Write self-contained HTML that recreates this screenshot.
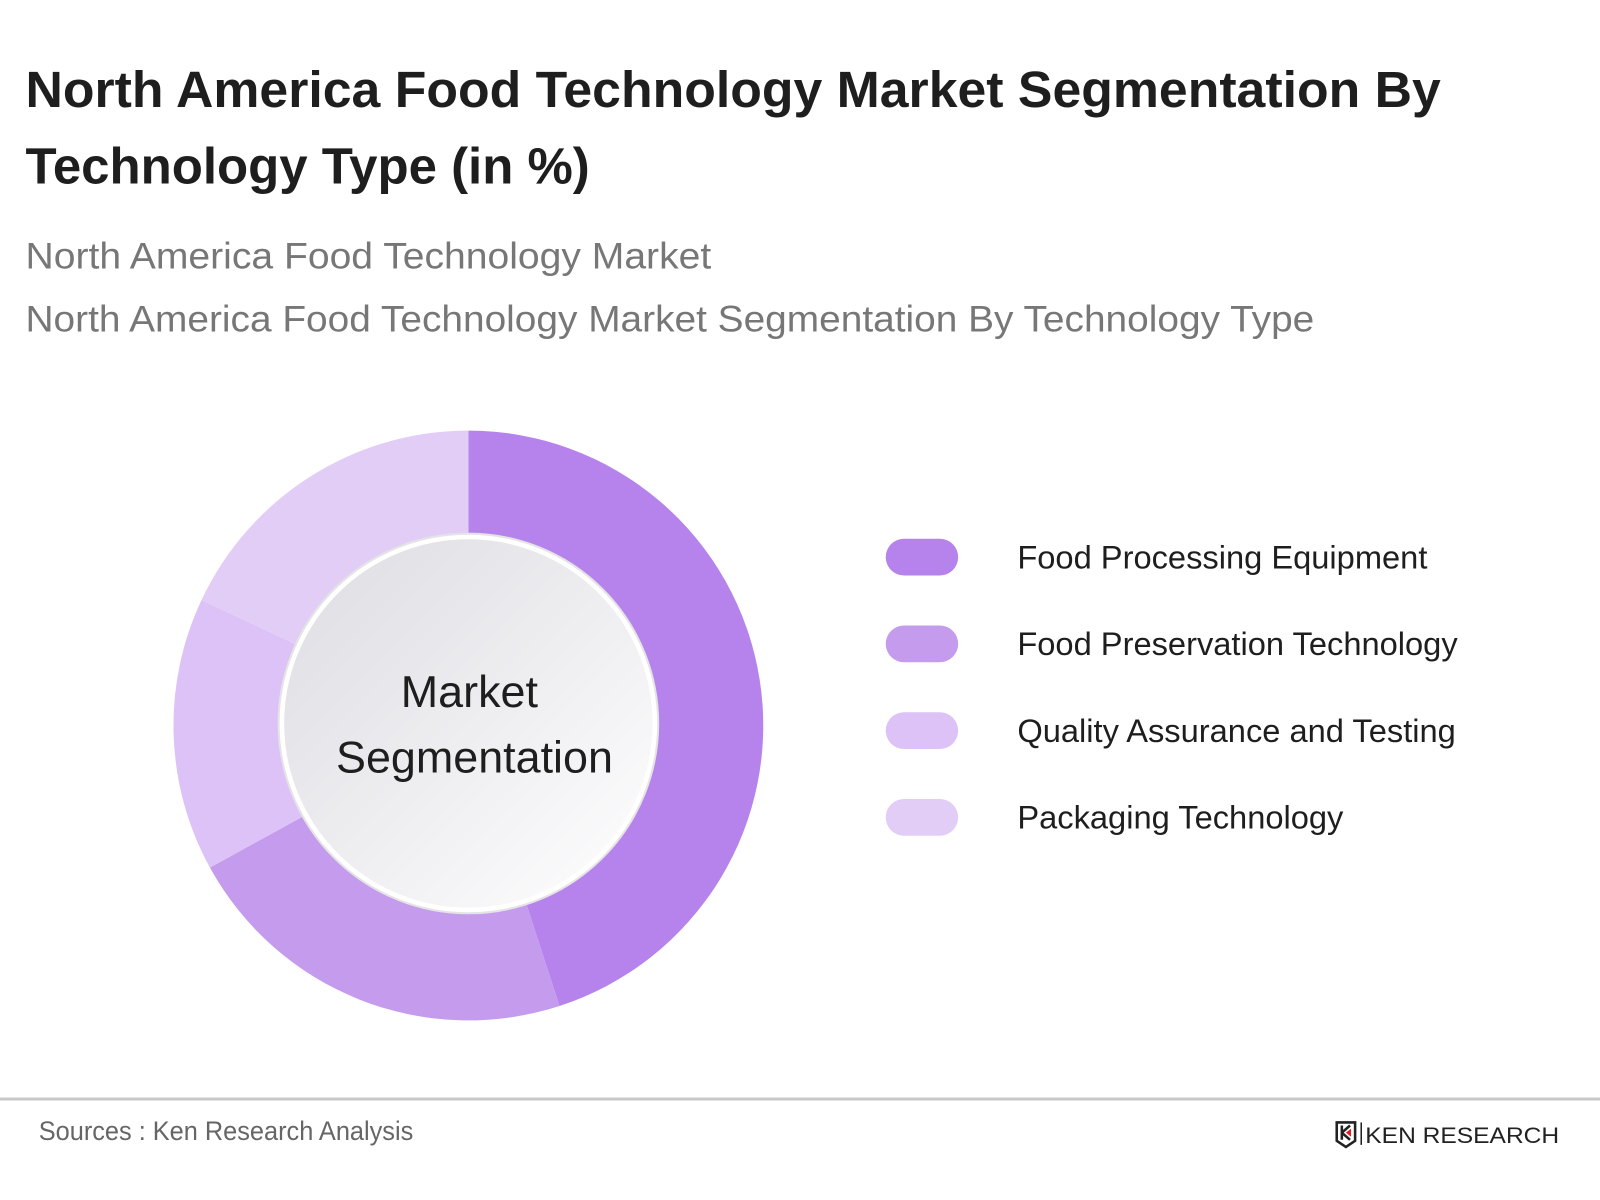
<!DOCTYPE html>
<html><head><meta charset="utf-8"><style>
html,body{margin:0;padding:0;background:#fff}
svg{display:block}
text{font-family:"Liberation Sans",sans-serif}
</style></head><body>
<svg id="chart" width="1600" height="1200" viewBox="0 0 1568 1176" xmlns="http://www.w3.org/2000/svg">
<defs>
<linearGradient id="cg" x1="0" y1="0" x2="1" y2="1">
<stop offset="0" stop-color="#dcdce2"/><stop offset="1" stop-color="#ffffff"/>
</linearGradient>
</defs>
<text x="25" y="105" font-size="50" font-weight="bold" fill="#1e1e1e" textLength="1387" lengthAdjust="spacingAndGlyphs">North America Food Technology Market Segmentation By</text>
<text x="25" y="180" font-size="50" font-weight="bold" fill="#1e1e1e" textLength="553" lengthAdjust="spacingAndGlyphs">Technology Type (in %)</text>
<text x="25" y="263" font-size="36" fill="#777" textLength="672" lengthAdjust="spacingAndGlyphs">North America Food Technology Market</text>
<text x="25" y="325" font-size="36" fill="#777" textLength="1263" lengthAdjust="spacingAndGlyphs">North America Food Technology Market Segmentation By Technology Type</text>
<g id="slices"></g>
<circle cx="459" cy="709" r="183" fill="url(#cg)" stroke="#fff" stroke-width="5"/>
<circle cx="459" cy="709" r="186" fill="none" stroke="#e4e4e4" stroke-width="2"/>
<text x="460" y="693" font-size="44" text-anchor="middle" fill="#1e1e1e">Market</text>
<text x="465" y="757" font-size="44" text-anchor="middle" fill="#1e1e1e">Segmentation</text>
<g id="legend"></g>
<line x1="0" y1="1077" x2="1568" y2="1077" stroke="#c8c8c8" stroke-width="3"/>
<text x="38" y="1117" font-size="26" fill="#666" textLength="367" lengthAdjust="spacingAndGlyphs">Sources : Ken Research Analysis</text>
<g>
<path d="M1310 1100 h18 v18 l-9 6 l-9 -6 z" fill="none" stroke="#222" stroke-width="2.5"/>
<path d="M1315 1103 v14 M1315 1110 l8 -7 M1315 1110 l8 7" stroke="#222" stroke-width="2.5" fill="none"/>
<path d="M1319 1110 l5 -4 v8 z" fill="#e02020"/>
<line x1="1334" y1="1100" x2="1334" y2="1122" stroke="#222" stroke-width="1.5"/>
<text x="1338" y="1120" font-size="22" fill="#222" textLength="190" lengthAdjust="spacingAndGlyphs">KEN RESEARCH</text>
</g>
</svg>
<script>
const categories = ["Food Processing Equipment","Food Preservation Technology","Quality Assurance and Testing","Packaging Technology"];
const values = [45, 22, 15, 18];
const colors = ["#b583eb","#c59bee","#dcc2f6","#e2cdf7"];
const NS = "http://www.w3.org/2000/svg";
const cx = 459, cy = 711, R = 289, r0 = 150;
const total = values.reduce((a,b)=>a+b,0);
function pt(a, rad){ return [cx + rad*Math.sin(a), cy - rad*Math.cos(a)]; }
const sg = document.getElementById('slices');
let acc = 0;
values.forEach((v,i)=>{
  const a0 = acc/total*2*Math.PI; acc += v; const a1 = acc/total*2*Math.PI;
  const large = (a1-a0) > Math.PI ? 1 : 0;
  const [x0,y0]=pt(a0,R),[x1,y1]=pt(a1,R),[x2,y2]=pt(a1,r0),[x3,y3]=pt(a0,r0);
  const p = document.createElementNS(NS,'path');
  p.setAttribute('d',`M${x0} ${y0} A${R} ${R} 0 ${large} 1 ${x1} ${y1} L${x2} ${y2} A${r0} ${r0} 0 ${large} 0 ${x3} ${y3} Z`);
  p.setAttribute('fill',colors[i]);
  
  
  sg.appendChild(p);
});
const lg = document.getElementById('legend');
categories.forEach((c,i)=>{
  const y = 546 + i*85;
  const g = document.createElementNS(NS,'g');
  
  
  const rc = document.createElementNS(NS,'rect');
  rc.setAttribute('x',868); rc.setAttribute('y',y-18); rc.setAttribute('width',71); rc.setAttribute('height',36);
  rc.setAttribute('rx',18); rc.setAttribute('fill',colors[i]);
  
  
  const t = document.createElementNS(NS,'text');
  t.setAttribute('x',997); t.setAttribute('y',y+11); t.setAttribute('font-size',32); t.setAttribute('fill','#1e1e1e');
  
  
  t.textContent = c;
  g.appendChild(rc); g.appendChild(t); lg.appendChild(g);
});
</script>
</body></html>
